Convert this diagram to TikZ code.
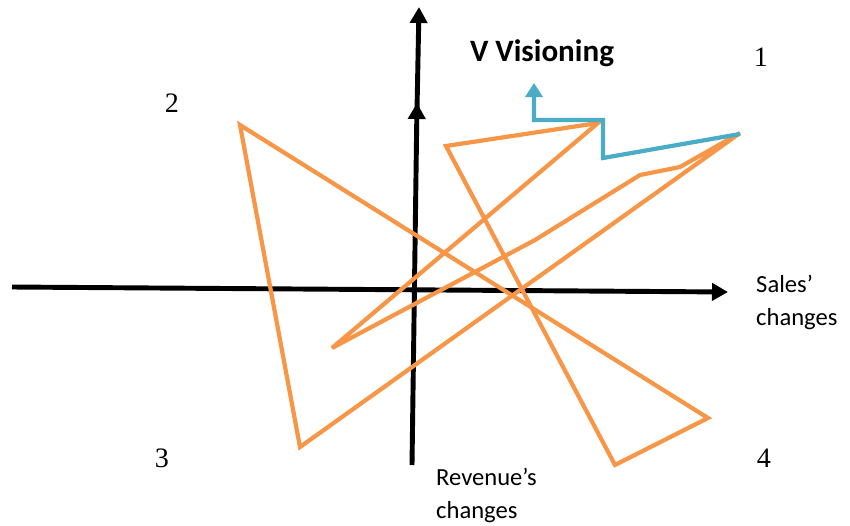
\documentclass[tikz,border=0pt]{standalone}
\usepackage{fontspec}
\setmainfont{Liberation Serif}
\newfontfamily\calibri{Carlito}
\usetikzlibrary{arrows.meta}
\definecolor{vorange}{HTML}{F79646}
\definecolor{vblue}{HTML}{4BACC6}

\begin{document}
\begin{tikzpicture}[x=0.02cm,y=-0.02cm,
  axis/.style={line width=2.8pt,color=black,-{Triangle[width=0.34cm,length=0.32cm]}},
  zigzag/.style={line width=2.4pt,color=vorange,line join=miter,miter limit=4},
  vpath/.style={line width=2.4pt,color=vblue,-{Triangle[width=0.34cm,length=0.28cm]}},
  corner/.style={font=\fontsize{16}{19}\selectfont},
  axlabel/.style={font=\calibri\fontsize{14}{19}\selectfont,align=left,anchor=north west}]
\useasboundingbox (0,0) rectangle (850,525);
%axes
\draw[axis] (12,287) -- (728,292);
\draw[axis] (412,465) -- (417,103);
\draw[axis] (417,110) -- (419,7);
%orange loop
\draw[zigzag] (740,133) -- (680,167) -- (640,175) -- (535,240) -- (332,348)
  -- (598,123) -- (446,146) -- (615,465) -- (708,418) -- (240,125)
  -- (300,447) -- cycle;
%blue path
\draw[vpath] (740,134) -- (603,158) -- (603,120) -- (534,120) -- (534,83);
%labels
\node (title) at (542,53) {\calibri\bfseries\fontsize{17.7}{21}\selectfont V Visioning};
\node[corner] (q1) at (761,57) {1};
\node[corner] (q2) at (172,103) {2};
\node[corner] (q3) at (162,458) {3};
\node[corner] (q4) at (764,458) {4};
\node[axlabel] (sales) at (750,269) {Sales’\\changes};
\node[axlabel] (revenue) at (430,462) {Revenue’s\\changes};
\end{tikzpicture}
\end{document}
